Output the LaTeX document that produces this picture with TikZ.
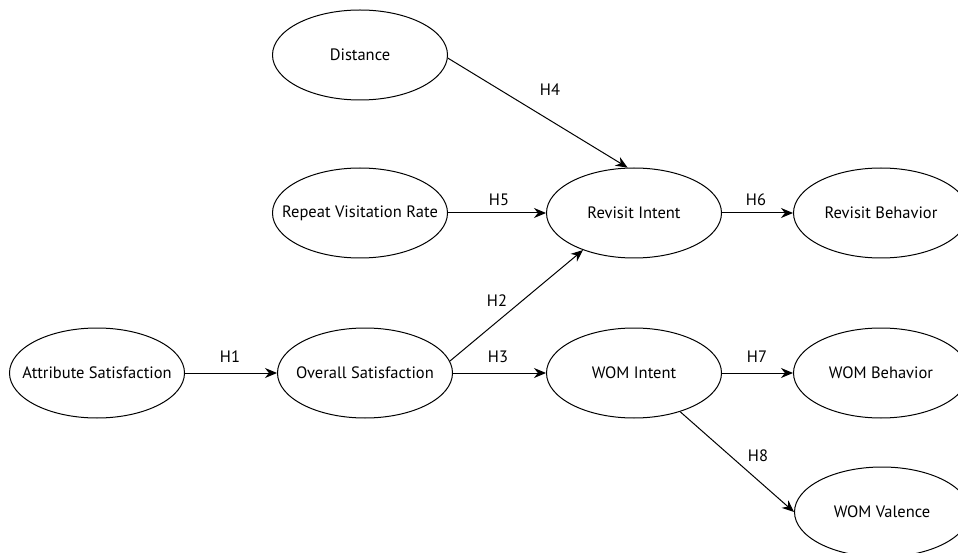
\documentclass[tikz,border=0pt]{standalone}
\usepackage{fontspec}
\setmainfont{PT Sans}
\usetikzlibrary{shapes.geometric,arrows.meta}
\newcommand{\ctxt}[1]{\makebox[0pt]{#1}}
\begin{document}
\begin{tikzpicture}[x=1pt,y=-1pt,
  construct/.style={ellipse,draw,line width=1pt,minimum width=175pt,minimum height=90pt,inner sep=0pt,font=\fontsize{16.5}{18}\selectfont},
  path/.style={line width=1pt,-{Stealth[length=12pt,width=10pt]}},
  hyp/.style={font=\fontsize{16.5}{18}\selectfont}]
\useasboundingbox (0,0) rectangle (958,553);
\clip (0,0) rectangle (958,553);
\fill[white] (0,0) rectangle (958,553);
\node[construct] (dist) at (360,55) {\ctxt{Distance}};
\node[construct] (rep) at (360,213) {\ctxt{Repeat Visitation Rate}};
\node[construct] (ri) at (634,213) {\ctxt{Revisit Intent}};
\node[construct] (rb) at (881,213) {\ctxt{Revisit Behavior}};
\node[construct] (as) at (97,373) {\ctxt{Attribute Satisfaction}};
\node[construct] (os) at (365,373) {\ctxt{Overall Satisfaction}};
\node[construct] (wi) at (634,373) {\ctxt{WOM Intent}};
\node[construct] (wb) at (881,373) {\ctxt{WOM Behavior}};
\node[construct] (wv) at (882,512) {\ctxt{WOM Valence}};
\draw[path] (as) -- (os);
\draw[path] (os.east) -- (wi.west);
\draw[path] (os.8) -- (ri.216);
\draw[path] (dist.358) -- (ri.98);
\draw[path] (rep) -- (ri);
\draw[path] (ri) -- (rb);
\draw[path] (wi) -- (wb);
\draw[path] (wi.-40) -- (wv.west);
\node[hyp] (h1) at (230,357) {H1};
\node[hyp] (h2) at (497,301) {H2};
\node[hyp] (h3) at (498,357) {H3};
\node[hyp] (h4) at (550,90) {H4};
\node[hyp] (h5) at (499,200) {H5};
\node[hyp] (h6) at (756,200) {H6};
\node[hyp] (h7) at (757,357) {H7};
\node[hyp] (h8) at (758,456) {H8};
\end{tikzpicture}
\end{document}
